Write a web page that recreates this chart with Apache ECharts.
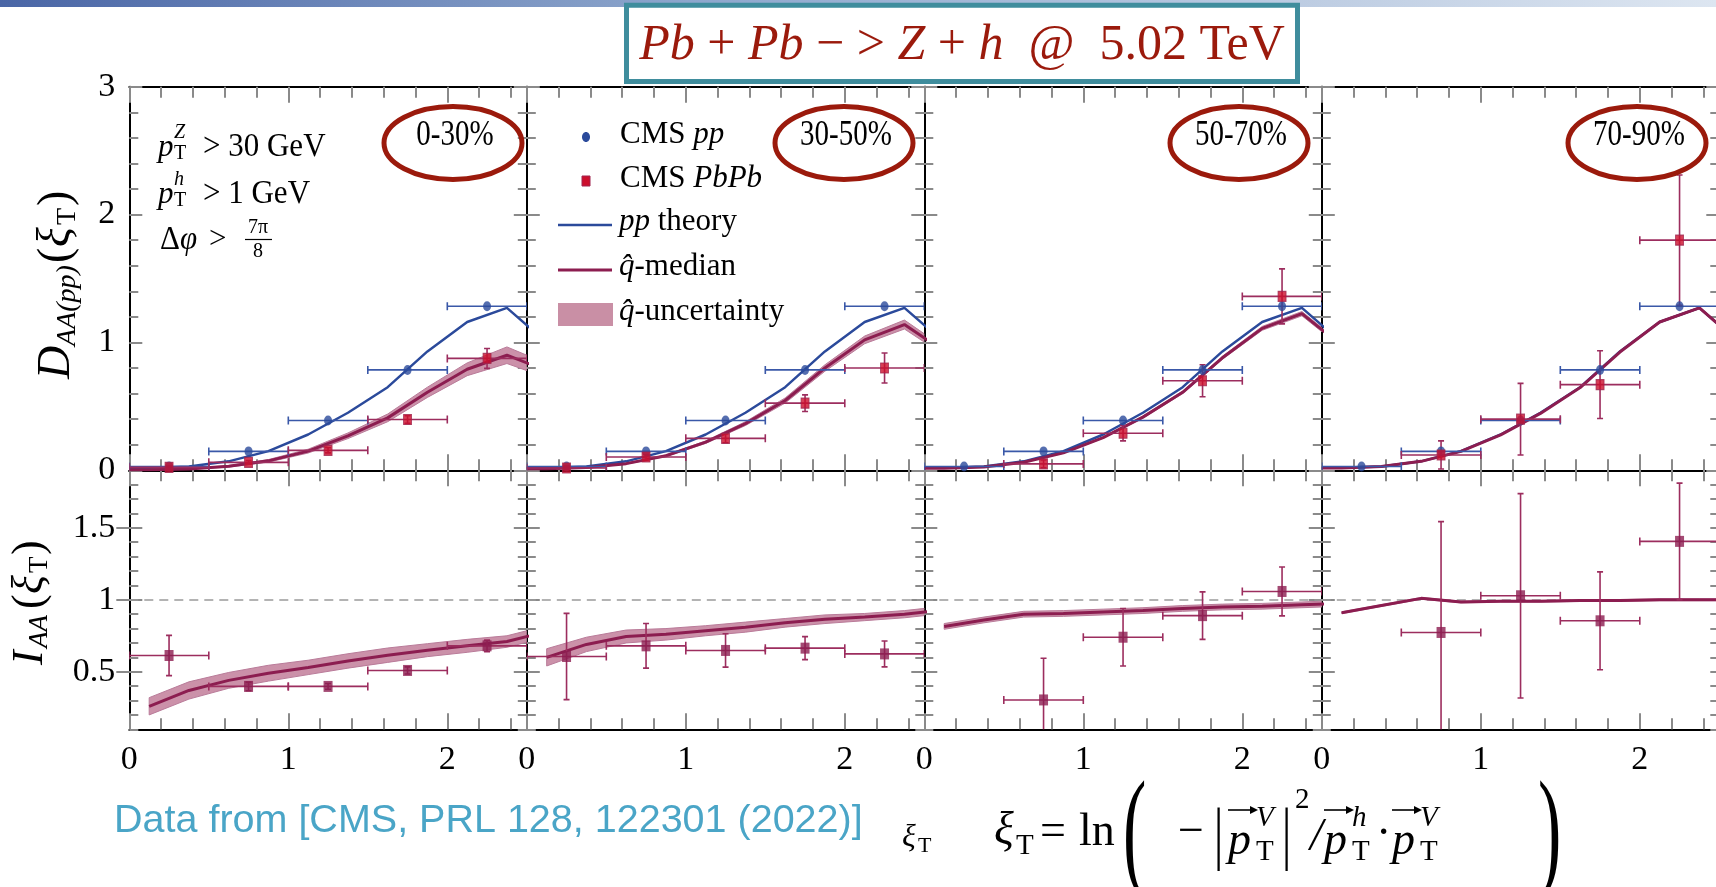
<!DOCTYPE html>
<html>
<head>
<meta charset="utf-8">
<script src="https://cdn.jsdelivr.net/npm/echarts@6/dist/echarts.min.js"></script>
<style>
  html, body { margin: 0; padding: 0; background: #fff; }
  #chart { width: 1716px; height: 887px; }
</style>
</head>
<body>
<div id="chart"></div>
<script>
// bin centres of the CMS points (each bin is 0.5 wide)
const binX = [0.25, 0.75, 1.25, 1.75, 2.25];
const binHalf = 0.25;
// x positions of the theory curves
const theoryXTop = [0, 0.125, 0.375, 0.625, 0.875, 1.125, 1.375, 1.625, 1.875, 2.125, 2.375, 2.625];
const theoryX = [0.125, 0.375, 0.625, 0.875, 1.125, 1.375, 1.625, 1.875, 2.125, 2.375, 2.625];

const centralities = ['0-30%', '30-50%', '50-70%', '70-90%'];
const iaaMajorTicks = [0.5, 1, 1.5];

// CMS pp reference (same in every panel)
const ppData = [0.03, 0.148, 0.39, 0.785, 1.283];
const ppTheory = [0.02, 0.02, 0.03, 0.07, 0.15, 0.28, 0.45, 0.65, 0.93, 1.16, 1.27, 1.0];

// CMS PbPb D_AA
const pbpb_0_30 = [0.023, 0.062, 0.156, 0.397, 0.875];
const pbpbErr_0_30 = [0.01, 0.015, 0.02, 0.03, 0.078];
const pbpb_30_50 = [0.018, 0.104, 0.25, 0.525, 0.80];
const pbpbErr_30_50 = [0.015, 0.02, 0.035, 0.065, 0.117];
const pbpb_50_70 = [null, 0.05, 0.29, 0.70, 1.36];
const pbpbErr_50_70 = [0, 0.03, 0.06, 0.125, 0.215];
const pbpb_70_90 = [null, 0.12, 0.40, 0.67, 1.80];
const pbpbErr_70_90 = [0, 0.11, 0.28, 0.265, 0.51];

// q-hat median D_AA and half width of the uncertainty band
const median_0_30 = [0.005, 0.005, 0.011, 0.031, 0.074, 0.15, 0.27, 0.41, 0.61, 0.79, 0.90, 0.78];
const band_0_30 = [0.003, 0.003, 0.004, 0.006, 0.01, 0.015, 0.022, 0.03, 0.04, 0.05, 0.065, 0.055];
const median_30_50 = [0.012, 0.012, 0.021, 0.052, 0.114, 0.22, 0.365, 0.546, 0.80, 1.02, 1.14, 0.93];
const band_30_50 = [0.002, 0.002, 0.003, 0.004, 0.006, 0.01, 0.015, 0.02, 0.025, 0.03, 0.035, 0.03];
const median_50_70 = [0.016, 0.016, 0.026, 0.063, 0.136, 0.256, 0.416, 0.61, 0.88, 1.11, 1.225, 0.975];
const band_50_70 = [0.001, 0.001, 0.002, 0.002, 0.003, 0.005, 0.008, 0.01, 0.012, 0.015, 0.017, 0.015];
const median_70_90 = [0.018, 0.018, 0.029, 0.07, 0.148, 0.277, 0.445, 0.647, 0.925, 1.16, 1.27, 1.0];
const band_70_90 = [0.001, 0.001, 0.001, 0.001, 0.002, 0.002, 0.003, 0.004, 0.005, 0.006, 0.006, 0.005];

// CMS I_AA
const iaa_0_30 = [0.613, 0.398, 0.398, 0.509, 0.68];
const iaaErr_0_30 = [0.14, 0.03, 0.02, 0.025, 0.04];
const iaa_30_50 = [0.606, 0.68, 0.648, 0.664, 0.624];
const iaaErr_30_50 = [0.30, 0.155, 0.116, 0.08, 0.09];
const iaa_50_70 = [null, 0.304, 0.74, 0.89, 1.058];
const iaaErr_50_70 = [0, 0.29, 0.2, 0.165, 0.17];
const iaa_70_90 = [null, 0.773, 1.028, 0.854, 1.406];
const iaaErr_70_90 = [0, 0.77, 0.71, 0.34, 0.405];

// q-hat median I_AA and band half width
const iaaMedian_0_30 = [0.26, 0.37, 0.44, 0.49, 0.53, 0.575, 0.615, 0.65, 0.68, 0.71, 0.78];
const iaaBand_0_30 = [0.06, 0.06, 0.055, 0.055, 0.05, 0.05, 0.05, 0.045, 0.045, 0.04, 0.04];
const iaaMedian_30_50 = [0.60, 0.69, 0.745, 0.76, 0.785, 0.81, 0.84, 0.865, 0.88, 0.90, 0.93];
const iaaBand_30_50 = [0.06, 0.05, 0.045, 0.04, 0.035, 0.035, 0.03, 0.03, 0.025, 0.025, 0.025];
const iaaMedian_50_70 = [0.815, 0.86, 0.90, 0.905, 0.915, 0.925, 0.94, 0.95, 0.955, 0.965, 0.975];
const iaaBand_50_70 = [0.02, 0.02, 0.02, 0.02, 0.02, 0.02, 0.02, 0.02, 0.02, 0.02, 0.02];
const iaaMedian_70_90 = [0.91, 0.96, 1.01, 0.985, 0.99, 0.99, 0.995, 0.995, 1.0, 1.0, 1.0];
const iaaBand_70_90 = [0.006, 0.006, 0.006, 0.006, 0.006, 0.006, 0.006, 0.006, 0.006, 0.006, 0.006];

const panels = [
  { pbpb: pbpb_0_30, pbpbErr: pbpbErr_0_30, med: median_0_30, band: band_0_30, iaa: iaa_0_30, iaaErr: iaaErr_0_30, iMed: iaaMedian_0_30, iBand: iaaBand_0_30 },
  { pbpb: pbpb_30_50, pbpbErr: pbpbErr_30_50, med: median_30_50, band: band_30_50, iaa: iaa_30_50, iaaErr: iaaErr_30_50, iMed: iaaMedian_30_50, iBand: iaaBand_30_50 },
  { pbpb: pbpb_50_70, pbpbErr: pbpbErr_50_70, med: median_50_70, band: band_50_70, iaa: iaa_50_70, iaaErr: iaaErr_50_70, iMed: iaaMedian_50_70, iBand: iaaBand_50_70 },
  { pbpb: pbpb_70_90, pbpbErr: pbpbErr_70_90, med: median_70_90, band: band_70_90, iaa: iaa_70_90, iaaErr: iaaErr_70_90, iMed: iaaMedian_70_90, iBand: iaaBand_70_90 }
];

// colours
const blue = '#2b4a9b';
const blueBar = '#3a58a8';
const wine = '#8c1d50';
const wineBar = '#9c2d5e';
const red = '#cc0e2c';
const bandFill = '#cb91a9';
const bandEdge = '#b97b99';
const titleRed = '#9b1a0c';
const tickGray = '#8a8a8a';
const serif = '"Liberation Serif", "DejaVu Serif", serif';

// layout
const panelLeft = [129.3, 526.8, 924.3, 1321.8];
const panelW = 397.5;
const topY = 86.7, topH = 383.6;
const botY = 470.3, botH = 259;

const chart = echarts.init(document.getElementById('chart'), null, { renderer: 'canvas' });

function clipOf(params) {
  const cs = params.coordSys;
  return { type: 'rect', shape: { x: cs.x, y: cs.y, width: cs.width, height: cs.height } };
}

// horizontal + vertical error bars with caps
function errorBars(color, capX, capY) {
  return function (params, api) {
    const x = api.value(0), y = api.value(1), ex = api.value(2), ey = api.value(3);
    const l = api.coord([x - ex, y]);
    const r = api.coord([x + ex, y]);
    const st = { stroke: color, lineWidth: 1.6 };
    const kids = [
      { type: 'line', shape: { x1: l[0], y1: l[1], x2: r[0], y2: r[1] }, style: st },
      { type: 'line', shape: { x1: l[0], y1: l[1] - capY, x2: l[0], y2: l[1] + capY }, style: st },
      { type: 'line', shape: { x1: r[0], y1: r[1] - capY, x2: r[0], y2: r[1] + capY }, style: st }
    ];
    if (ey > 0) {
      const t = api.coord([x, y + ey]);
      const b = api.coord([x, y - ey]);
      kids.push({ type: 'line', shape: { x1: t[0], y1: t[1], x2: b[0], y2: b[1] }, style: st });
      kids.push({ type: 'line', shape: { x1: t[0] - capX, y1: t[1], x2: t[0] + capX, y2: t[1] }, style: st });
      kids.push({ type: 'line', shape: { x1: b[0] - capX, y1: b[1], x2: b[0] + capX, y2: b[1] }, style: st });
    }
    return { type: 'group', children: kids, clipPath: clipOf(params) };
  };
}

// uncertainty band as one polygon
function bandItem(xs, mid, half) {
  return function (params, api) {
    if (params.dataIndex !== 0) return null;
    const up = xs.map(function (x, i) { return api.coord([x, mid[i] + half[i]]); });
    const lo = xs.map(function (x, i) { return api.coord([x, mid[i] - half[i]]); }).reverse();
    return {
      type: 'polygon',
      shape: { points: up.concat(lo) },
      style: { fill: bandFill, stroke: bandEdge, lineWidth: 1 },
      clipPath: clipOf(params)
    };
  };
}

function pointsWithErr(xs, ys, ex, ey) {
  const out = [];
  xs.forEach(function (x, i) {
    if (ys[i] == null) return;
    out.push([x, ys[i], ex, ey ? ey[i] : 0]);
  });
  return out;
}

const grids = [], xAxes = [], yAxes = [], series = [];
const axisLineStyle = { show: true, onZero: false, lineStyle: { color: '#000', width: 2 } };
const labelFont = { color: '#000', fontFamily: serif, fontSize: 34 };

// one grid framed by four axes; returns the axis indices used by the series
function addGrid(left, top, height, isTop, first) {
  const g = grids.length;
  grids.push({ left: left, top: top, width: panelW, height: height, containLabel: false, outerBoundsMode: 'none' });
  const xi = xAxes.length, yi = yAxes.length;
  const xBase = {
    gridIndex: g, type: 'value', min: 0, max: 2.5, interval: 1,
    axisLine: axisLineStyle,
    axisTick: { show: true, inside: true, length: 16, lineStyle: { color: tickGray, width: 2 } },
    minorTick: { show: true, splitNumber: 5, length: 11, lineStyle: { color: tickGray, width: 2 } },
    splitLine: { show: false }, minorSplitLine: { show: false }
  };
  xAxes.push(Object.assign({}, xBase, {
    position: 'bottom',
    axisLabel: Object.assign({
      show: !isTop, margin: 14,
      formatter: function (v) { return Math.abs(v - Math.round(v)) < 1e-6 ? String(Math.round(v)) : ''; }
    }, labelFont)
  }));
  xAxes.push(Object.assign({}, xBase, { position: 'top', axisLabel: { show: false } }));

  ['left', 'right'].forEach(function (side) {
    const showLab = first && side === 'left';
    if (isTop) {
      yAxes.push({
        gridIndex: g, type: 'value', min: 0, max: 3, interval: 1, position: side,
        axisLine: axisLineStyle,
        axisTick: { show: true, inside: true, length: 13, lineStyle: { color: tickGray, width: 2 } },
        minorTick: { show: true, splitNumber: 5, length: 9, lineStyle: { color: tickGray, width: 2 } },
        axisLabel: Object.assign({ show: showLab, margin: 14 }, labelFont),
        splitLine: { show: false }, minorSplitLine: { show: false }
      });
    } else {
      // minor ticks every 0.1
      yAxes.push({
        gridIndex: g, type: 'value', min: 0.1, max: 1.9, interval: 0.1, position: side,
        axisLine: axisLineStyle,
        axisTick: { show: true, inside: true, length: 9, lineStyle: { color: tickGray, width: 2 } },
        axisLabel: { show: false },
        splitLine: { show: false }
      });
      // longer ticks and labels at 0.5, 1, 1.5
      yAxes.push({
        gridIndex: g, type: 'value', min: 0.1, max: 1.9, position: side, offset: 0,
        axisLine: { show: false },
        axisTick: { show: true, inside: true, length: 13, customValues: iaaMajorTicks, lineStyle: { color: tickGray, width: 2 } },
        axisLabel: Object.assign({ show: showLab, margin: 14, customValues: iaaMajorTicks }, labelFont),
        splitLine: { show: false }
      });
    }
  });
  return { xAxisIndex: xi, yAxisIndex: yi };
}

panels.forEach(function (p, k) {
  // top row: D_AA
  const ax = addGrid(panelLeft[k], topY, topH, true, k === 0);

  series.push(Object.assign({
    type: 'custom', z: 2, silent: true,
    data: theoryXTop.map(function (x, i) { return [x, p.med[i]]; }),
    renderItem: bandItem(theoryXTop, p.med, p.band)
  }, ax));
  series.push(Object.assign({
    type: 'line', z: 3, symbol: 'none', clip: true, silent: true,
    data: theoryXTop.map(function (x, i) { return [x, ppTheory[i]]; }),
    lineStyle: { color: blue, width: 2.5 }
  }, ax));
  series.push(Object.assign({
    type: 'line', z: 4, symbol: 'none', clip: true, silent: true,
    data: theoryXTop.map(function (x, i) { return [x, p.med[i]]; }),
    lineStyle: { color: wine, width: 3 }
  }, ax));
  series.push(Object.assign({
    type: 'custom', z: 5, silent: true,
    data: pointsWithErr(binX, ppData, binHalf, null),
    renderItem: errorBars(blueBar, 3, 4)
  }, ax));
  series.push(Object.assign({
    type: 'custom', z: 5, silent: true,
    data: pointsWithErr(binX, p.pbpb, binHalf, p.pbpbErr),
    renderItem: errorBars(wineBar, 3, 4)
  }, ax));
  series.push(Object.assign({
    type: 'scatter', z: 6, silent: true, symbol: 'circle', symbolSize: [8, 10],
    data: pointsWithErr(binX, ppData, 0, null).map(function (d) { return [d[0], d[1]]; }),
    itemStyle: { color: blue }
  }, ax));
  series.push(Object.assign({
    type: 'scatter', z: 7, silent: true, symbol: 'rect', symbolSize: [8, 10],
    data: pointsWithErr(binX, p.pbpb, 0, null).map(function (d) { return [d[0], d[1]]; }),
    itemStyle: { color: red, borderColor: '#a0254e', borderWidth: 1 }
  }, ax));

  // bottom row: I_AA
  const bx = addGrid(panelLeft[k], botY, botH, false, k === 0);

  series.push(Object.assign({
    type: 'custom', z: 2, silent: true,
    data: theoryX.map(function (x, i) { return [x, p.iMed[i]]; }),
    renderItem: bandItem(theoryX, p.iMed, p.iBand)
  }, bx));
  series.push(Object.assign({
    type: 'line', z: 4, symbol: 'none', clip: true, silent: true,
    data: theoryX.map(function (x, i) { return [x, p.iMed[i]]; }),
    lineStyle: { color: wine, width: 3 },
    markLine: {
      silent: true, symbol: 'none', label: { show: false }, z: 1,
      lineStyle: { color: '#9a9a9a', type: [9, 6], width: 1.5 },
      data: [{ yAxis: 1 }]
    }
  }, bx));
  series.push(Object.assign({
    type: 'custom', z: 5, silent: true,
    data: pointsWithErr(binX, p.iaa, binHalf, p.iaaErr),
    renderItem: errorBars(wineBar, 3, 4)
  }, bx));
  series.push(Object.assign({
    type: 'scatter', z: 6, silent: true, symbol: 'rect', symbolSize: [9, 11],
    data: pointsWithErr(binX, p.iaa, 0, null).map(function (d) { return [d[0], d[1]]; }),
    itemStyle: { color: wine }
  }, bx));
});

// ---------- annotations ----------
function txt(text, x, y, size, o) {
  o = o || {};
  return {
    type: 'text', x: x, y: y, z: 100, scaleY: o.scaleY || 1,
    style: {
      text: text,
      font: (o.italic ? 'italic ' : '') + size + 'px ' + (o.family || serif),
      fill: o.color || '#000',
      align: o.align || 'left', textAlign: o.align || 'left',
      verticalAlign: 'middle', textVerticalAlign: 'middle'
    }
  };
}
// vector arrow drawn above a symbol
function arrow(x1, x2, y) {
  return {
    type: 'group', z: 100,
    children: [
      { type: 'line', shape: { x1: x1, y1: y, x2: x2 - 3, y2: y }, style: { stroke: '#000', lineWidth: 1.6 } },
      { type: 'polygon', shape: { points: [[x2, y], [x2 - 8, y - 4], [x2 - 8, y + 4]] }, style: { fill: '#000' } }
    ]
  };
}

const graphics = [];

// top gradient bar
graphics.push({
  type: 'rect', z: 50, shape: { x: 0, y: 0, width: 1716, height: 7 },
  style: { fill: new echarts.graphic.LinearGradient(0, 0, 1, 0, [
    { offset: 0, color: '#4a66a6' }, { offset: 0.4, color: '#8da6cc' }, { offset: 1, color: '#dde6f1' }
  ]) }
});
// title box
graphics.push({
  type: 'rect', z: 60, shape: { x: 626.5, y: 5.2, width: 671, height: 76.3 },
  style: { fill: '#fff', stroke: '#3f8d9d', lineWidth: 5 }
});
graphics.push({
  type: 'text', z: 61, x: 962, y: 46,
  style: {
    text: '{i|Pb} {n|+} {i|Pb} {n|− >} {i|Z} {n|+} {i|h} {n| @  5.02 TeV}',
    align: 'center', textAlign: 'center', verticalAlign: 'middle', textVerticalAlign: 'middle',
    font: '50px ' + serif, fill: titleRed,
    rich: {
      i: { fontStyle: 'italic', fontSize: 50, fontFamily: serif, fill: titleRed },
      n: { fontSize: 50, fontFamily: serif, fill: titleRed }
    }
  }
});

// centrality ellipses
const ellipseX = [453, 844, 1239, 1637];
centralities.forEach(function (c, k) {
  graphics.push({
    type: 'ellipse', z: 90, shape: { cx: ellipseX[k], cy: 143, rx: 69, ry: 36.5 },
    style: { fill: 'none', stroke: titleRed, lineWidth: 5 }
  });
  graphics.push(txt(c, ellipseX[k] + 2, 136, 29, { align: 'center', scaleY: 1.2 }));
});

// cuts in panel 1
graphics.push(txt('p', 158, 148, 31, { italic: true }));
graphics.push(txt('Z', 174, 133, 20, { italic: true }));
graphics.push(txt('T', 174, 154, 20));
graphics.push(txt('> 30 GeV', 203, 147, 31, { scaleY: 1.1 }));
graphics.push(txt('p', 158, 195, 31, { italic: true }));
graphics.push(txt('h', 174, 180, 20, { italic: true }));
graphics.push(txt('T', 174, 201, 20));
graphics.push(txt('> 1 GeV', 203, 194, 31, { scaleY: 1.1 }));
graphics.push(txt('Δ', 160, 240, 31, { scaleY: 1.1 }));
graphics.push(txt('φ', 180, 240, 31, { italic: true, scaleY: 1.1 }));
graphics.push(txt('>', 209, 240, 31));
graphics.push(txt('7π', 258, 228, 20, { align: 'center' }));
graphics.push({ type: 'line', z: 100, shape: { x1: 245, y1: 239.5, x2: 272, y2: 239.5 }, style: { stroke: '#000', lineWidth: 1.2 } });
graphics.push(txt('8', 258, 252, 20, { align: 'center' }));

// legend in panel 2
const richItalic = { i: { fontStyle: 'italic', fontSize: 31, fontFamily: serif, fill: '#000' } };
function legendText(text, x, y) {
  return {
    type: 'text', z: 100, x: x, y: y,
    style: { text: text, font: '31px ' + serif, fill: '#000', verticalAlign: 'middle', textVerticalAlign: 'middle', rich: richItalic }
  };
}
graphics.push({ type: 'ellipse', z: 100, shape: { cx: 586, cy: 137, rx: 4, ry: 5 }, style: { fill: blue } });
graphics.push(legendText('CMS {i|pp}', 620, 135));
graphics.push({ type: 'rect', z: 100, shape: { x: 582, y: 176, width: 8, height: 10 }, style: { fill: red, stroke: '#a0254e', lineWidth: 1 } });
graphics.push(legendText('CMS {i|PbPb}', 620, 179));
graphics.push({ type: 'line', z: 100, shape: { x1: 558, y1: 225, x2: 612, y2: 225 }, style: { stroke: blue, lineWidth: 2.5 } });
graphics.push(legendText('{i|pp} theory', 619, 222));
graphics.push({ type: 'line', z: 100, shape: { x1: 558, y1: 270, x2: 612, y2: 270 }, style: { stroke: wine, lineWidth: 3 } });
graphics.push(legendText('{i|q\u0302}-median', 619, 267));
graphics.push({ type: 'rect', z: 100, shape: { x: 558, y: 303, width: 55, height: 23 }, style: { fill: '#c98fa5' } });
graphics.push(legendText('{i|q\u0302}-uncertainty', 619, 312));

// y axis names (rotated groups, local x runs bottom to top)
graphics.push({
  type: 'group', x: 57, y: 281, rotation: Math.PI / 2, z: 100,
  children: [
    txt('D', -98, 0, 46, { italic: true }),
    txt('AA(pp)', -65, 11, 28, { italic: true }),
    txt('(', 18, 0, 46),
    txt('ξ', 34, 0, 46, { italic: true }),
    txt('T', 56, 11, 28),
    txt(')', 75, 0, 46)
  ]
});
graphics.push({
  type: 'group', x: 30, y: 601, rotation: Math.PI / 2, z: 100,
  children: [
    txt('I', -64, 0, 44, { italic: true }),
    txt('AA', -47, 10, 27, { italic: true }),
    txt('(', -8, 0, 44),
    txt('ξ', 7, 0, 44, { italic: true }),
    txt('T', 28, 10, 27),
    txt(')', 46, 0, 44)
  ]
});

// bottom line: data source, axis name and formula
graphics.push(txt('Data from [CMS, PRL 128, 122301 (2022)]', 114, 821, 39.5,
  { family: '"Liberation Sans", Arial, sans-serif', color: '#4aa5c7' }));
graphics.push(txt('ξ', 902, 838, 32, { italic: true }));
graphics.push(txt('T', 918, 846, 22));

graphics.push(txt('ξ', 994, 832, 46, { italic: true }));
graphics.push(txt('T', 1016, 846, 29));
graphics.push(txt('=', 1040, 833, 46));
graphics.push(txt('ln', 1079, 833, 46));
graphics.push(txt('(', 1123, 838, 70, { scaleY: 1.9 }));
graphics.push(txt('−', 1178, 833, 46));
graphics.push(txt('|', 1214, 838, 46, { scaleY: 1.5 }));
graphics.push(txt('p', 1228, 842, 46, { italic: true }));
graphics.push(arrow(1228, 1258, 810));
graphics.push(txt('V', 1256, 818, 29, { italic: true }));
graphics.push(txt('T', 1256, 852, 29));
graphics.push(txt('|', 1282, 838, 46, { scaleY: 1.5 }));
graphics.push(txt('2', 1295, 800, 29));
graphics.push(txt('/', 1310, 838, 46, { italic: true }));
graphics.push(txt('p', 1324, 842, 46, { italic: true }));
graphics.push(arrow(1324, 1354, 810));
graphics.push(txt('h', 1352, 818, 29, { italic: true }));
graphics.push(txt('T', 1352, 852, 29));
graphics.push(txt('·', 1376, 835, 46));
graphics.push(txt('p', 1392, 842, 46, { italic: true }));
graphics.push(arrow(1392, 1422, 810));
graphics.push(txt('V', 1420, 818, 29, { italic: true }));
graphics.push(txt('T', 1420, 852, 29));
graphics.push(txt(')', 1538, 838, 70, { scaleY: 1.9 }));

chart.setOption({
  animation: false,
  backgroundColor: '#ffffff',
  grid: grids,
  xAxis: xAxes,
  yAxis: yAxes,
  series: series,
  graphic: { elements: graphics }
});
</script>
</body>
</html>
